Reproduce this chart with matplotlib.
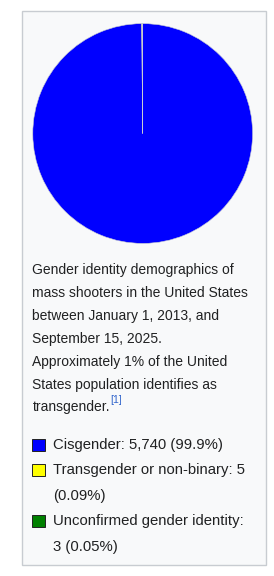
import matplotlib.pyplot as plt
from matplotlib.patches import Rectangle

# data
labels = ["Cisgender", "Transgender or non-binary", "Unconfirmed gender identity"]
counts = [5740, 5, 3]
shares = ["99.9%", "0.09%", "0.05%"]
colors = ["#0000ff", "#ffff00", "#008000"]

caption = ["Gender identity demographics of",
           "mass shooters in the United States",
           "between January 1, 2013, and",
           "September 15, 2025.",
           "Approximately 1% of the United",
           "States population identifies as",
           "transgender."]
legend_lines = [["Cisgender: 5,740 (99.9%)"],
                ["Transgender or non-binary: 5", "(0.09%)"],
                ["Unconfirmed gender identity:", "3 (0.05%)"]]

W, H = 274, 576
fig = plt.figure(figsize=(W / 100, H / 100), dpi=100)
fig.patch.set_facecolor("white")
plt.rcParams['font.family'] = ['Liberation Sans', 'DejaVu Sans']
renderer = fig.canvas.get_renderer()

txt_color = "#202122"


def fx(x):
    return x / W


def fy(y):
    return 1 - y / H


def fit_size(s, width_px, guess=10.5):
    # pick the font size so that the line has the wanted pixel width
    t = fig.text(0, 0, s, fontsize=guess)
    w = t.get_window_extent(renderer).width
    t.remove()
    return guess * width_px / w


# infobox frame
fig.patches.append(Rectangle((fx(21.5), fy(564.5)), fx(265.5 - 21.5), (564.5 - 10.5) / H,
                             transform=fig.transFigure, facecolor="#f8f9fa",
                             edgecolor="#c8ccd1", linewidth=1.0, zorder=-5))

# pie
cx, cy, r = 142.7, 133.5, 111
ax = fig.add_axes([fx(cx - r), fy(cy + r), 2 * r / W, 2 * r / H])
ax.patch.set_alpha(0)
ax.pie(counts, colors=colors, startangle=90, counterclock=False, radius=1,
       wedgeprops=dict(linewidth=0.4, edgecolor="#c8ccd1"))
ax.set_xlim(-1.01, 1.01)
ax.set_ylim(-1.01, 1.01)
ax.set_aspect("equal")
ax.axis("off")

# caption
cap_fs = fit_size(caption[1], 218)
y0, step = 270, 22.9
last = None
for i, line in enumerate(caption):
    last = fig.text(fx(32.5), fy(y0 + i * step), line, fontsize=cap_fs, color=txt_color,
                    va="center", ha="left")
end_x = last.get_window_extent(renderer).x1
fig.text((end_x + 0.5) / W, fy(y0 + 6 * step - 7.5), "[1]", fontsize=cap_fs * 0.75,
         color="#3366cc", va="center", ha="left")

# legend
leg_fs = fit_size(legend_lines[1][0], 193.3)
ly, lstep = 445, 25.4
row = 0
for col, lines in zip(colors, legend_lines):
    fig.patches.append(Rectangle((fx(32.3), fy(ly + row * lstep + 6)), 12.5 / W, 12 / H,
                                 transform=fig.transFigure, facecolor=col,
                                 edgecolor="#222222", linewidth=0.7))
    for line in lines:
        fig.text(fx(53.3), fy(ly + row * lstep), line, fontsize=leg_fs, color=txt_color,
                 va="center", ha="left")
        row += 1

fig.savefig("out.png", dpi=100)
